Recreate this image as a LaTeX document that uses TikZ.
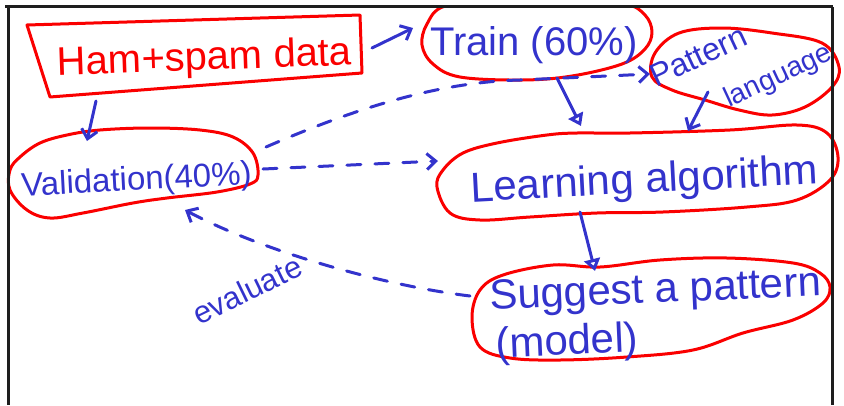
\documentclass[tikz,border=0pt]{standalone}
\usepackage{fontspec}
\setmainfont{Liberation Sans}
\usetikzlibrary{arrows.meta}
\definecolor{hblue}{RGB}{51,51,204}
\definecolor{hred}{RGB}{250,0,0}
\definecolor{hframe}{RGB}{30,30,30}
\begin{document}
\begin{tikzpicture}[x=1pt,y=-1pt,
  redline/.style={draw=hred, line width=3pt, line join=round},
  redel/.style={redline, smooth cycle, tension=0.6},
  btxt/.style={text=hblue, inner sep=0pt},
  arr/.style={draw=hblue, line width=3pt, line cap=round, line join=round,
    -{Straight Barb[length=9pt,width=16pt]}},
  tarr/.style={draw=hblue, line width=3pt, line cap=round, line join=round,
    -{Triangle[open,length=12pt,width=16pt]}},
  darr/.style={arr, dash pattern=on 14pt off 14pt},
  framel/.style={draw=hframe, line width=3pt}]
\useasboundingbox (0,0) rectangle (844,405);
% Ham + spam box
\coordinate (h1) at (27,25);
\coordinate (h2) at (360,15);
\coordinate (h3) at (362,73);
\coordinate (h4) at (50,97);
\draw[redline] (h1) -- (h2) -- (h3) -- (h4) -- cycle;
\node[text=hred, inner sep=0pt, font=\fontsize{40}{44}\selectfont, anchor=base, rotate=2] (ham) at (205,70) {Ham+spam data};
% red outlines
\begin{scope}
\clip (0,7.5) rectangle (844,405);
\draw[redel] plot coordinates {(445,6) (500,1) (570,0) (625,4) (645,15) (652,32) (645,49) (622,64) (572,76) (522,80) (460,77) (433,64) (422,45) (427,24)};
\end{scope}
\draw[redel] plot coordinates {(655,53) (679,33) (722,28) (772,33) (822,43) (839,67) (832,87) (805,107) (772,115) (739,110) (705,100) (672,90) (652,77)};
\draw[redel] plot coordinates {(577,133) (630,133) (730,130) (797,125) (827,133) (838,157) (830,180) (797,200) (747,207) (663,212) (597,213) (530,217) (480,220) (450,213) (437,187) (443,170) (463,153) (497,143) (547,135)};
\draw[redel] plot coordinates {(600,267) (660,260) (727,258) (793,263) (820,273) (830,287) (823,303) (793,320) (743,333) (693,350) (627,357) (560,360) (510,358) (480,347) (472,317) (480,290) (503,275) (553,265)};
\draw[redel] plot coordinates {(67,135) (100,130) (150,128) (200,130) (233,137) (253,153) (258,175) (250,184) (217,192) (167,198) (133,203) (83,213) (50,218) (27,210) (10,190) (10,170) (20,157) (40,143)};
% frame
\draw[framel] (5,6) -- (833,6);
\draw[framel] (8,7) -- (8,405);
\draw[framel] (832,7) -- (832,405);
% texts
\node[btxt, font=\fontsize{40}{44}\selectfont, anchor=base west] (train) at (430,55) {Train (60\%)};
\node[btxt, font=\fontsize{32}{34}\selectfont, anchor=base west, rotate=25] (pat) at (656,88) {Pattern};
\node[btxt, font=\fontsize{28}{30}\selectfont, anchor=base west, rotate=25] (lang) at (729,108) {language};
\node[btxt, font=\fontsize{42}{46}\selectfont, anchor=base, rotate=3] (learn) at (645,193) {Learning algorithm};
\node[btxt, font=\fontsize{33}{36}\selectfont, anchor=base, rotate=3] (val) at (137,190) {Validation(40\%)};
\node[btxt, font=\fontsize{42}{46}\selectfont, anchor=base west, rotate=2.5] (sug) at (490,310) {Suggest a pattern};
\node[btxt, font=\fontsize{42}{46}\selectfont, anchor=base west, rotate=2.5] (model) at (496,358) {(model)};
\node[btxt, font=\fontsize{31}{33}\selectfont, anchor=base, rotate=26] (eval) at (252,300) {evaluate};
% connector end points
\coordinate (hv) at (96,101);  \coordinate (vt) at (87,141);
\coordinate (ht) at (372,48);  \coordinate (tl) at (413,28);
\coordinate (tb) at (557,78);  \coordinate (lt1) at (581,126);
\coordinate (pl) at (708,92);  \coordinate (lt2) at (688,131);
\coordinate (lb) at (580,212); \coordinate (st) at (595,271);
\coordinate (vr1) at (266,147); \coordinate (pw) at (650,74);
\coordinate (vr2) at (263,169); \coordinate (ll) at (438,161);
\coordinate (sl) at (470,296); \coordinate (vb) at (185,210);
% solid arrows
\draw[arr] (hv) -- (vt);
\draw[arr] (ht) -- (tl);
\draw[tarr] (tb) -- (lt1);
\draw[arr] (pl) -- (lt2);
\draw[tarr] (lb) -- (st);
% dashed arrows
\draw[darr] (vr1) .. controls (340,115) and (430,82) .. (520,80) -- (pw);
\draw[darr] (vr2) -- (ll);
\draw[darr] (sl) .. controls (380,285) and (260,250) .. (vb);
\end{tikzpicture}
\end{document}
